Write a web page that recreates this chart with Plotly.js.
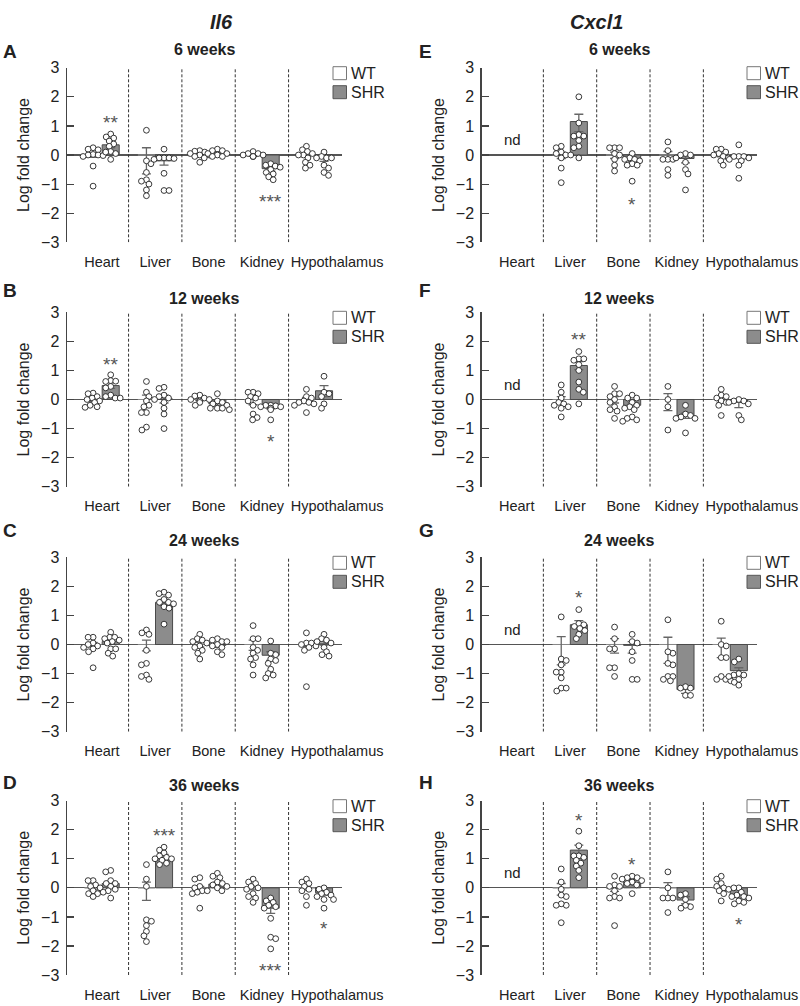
<!DOCTYPE html>
<html><head><meta charset="utf-8">
<script src="https://cdn.plot.ly/plotly-3.0.1.min.js"></script>
<style>html,body{margin:0;padding:0;background:#fff}#chart{width:800px;height:1006px}</style>
</head><body><div id="chart"></div>
<script>
const tissues = ['Heart','Liver','Bone','Kidney','Hypothalamus'];
const tissueLabelPos = [0, 1, 2, 3, 4.41];
const genes = ['Il6','Cxcl1'];
const ages = ['6 weeks','12 weeks','24 weeks','36 weeks'];

// ---------- Panel A: Il6, 6 weeks ----------
const A_wt_pts = [[0.25,0.2,0.18,0.02,0,0,-0.02,-0.05,-0.38,-1.07],[0.85,-0.3,-0.2,-0.6,-0.85,-0.9,-1.0,-1.2,-1.4],[0.15,0.13,0.1,0.05,0,0,-0.05,-0.1,-0.25],[0.12,0.05,0.05,0,0,-0.05,-0.05,-0.05],[0.3,0.18,0.12,0.05,0,0,-0.1,-0.25,-0.35,-0.45]];
const A_shr_pts = [[0.72,0.62,0.58,0.48,0.38,0.3,0.12,0.1,0.05,-0.15],[0.2,-0.1,-0.1,-0.1,-0.12,-0.15,-0.63,-1.22,-1.22],[0.2,0.15,0.15,0.05,0.05,0.02,0,-0.05,-0.05],[-0.3,-0.35,-0.38,-0.42,-0.5,-0.6,-0.65,-0.75,-0.85],[0.1,-0.05,-0.1,-0.1,-0.1,-0.35,-0.45,-0.6,-0.7]];
const A_wt_bar = [0,0,0,0,0];
const A_wt_hi = [0.07,0.25,0.05,0.04,0.07];
const A_wt_lo = [-0.08,-0.65,-0.05,-0.04,-0.08];
const A_shr_bar = [0.35,-0.2,0.07,-0.47,-0.1];
const A_shr_hi = [0.45,-0.07,0.12,-0.4,-0.02];
const A_shr_lo = [0.25,-0.35,0.02,-0.55,-0.22];
const A_stars = [[0,'**',1.3],[3,'***',-1.41]];

// ---------- Panel B: Il6, 12 weeks ----------
const B_wt_pts = [[0.22,0.2,0.1,0.05,0,-0.05,-0.1,-0.2,-0.25,-0.27],[0.62,0.25,0.1,-0.05,-0.2,-0.25,-0.45,-0.45,-0.95,-1.05],[0.15,0.12,0.05,0,0,-0.05,-0.1,-0.2],[0.25,0.25,0.2,0.1,0.05,-0.05,-0.2,-0.5,-0.62,-0.7],[0.35,0.1,0.05,-0.05,-0.1,-0.1,-0.15,-0.2,-0.45]];
const B_shr_pts = [[0.85,0.65,0.63,0.62,0.45,0.4,0.15,0.1,0.05,0.05],[0.42,0.38,0.15,0.1,0.05,0,-0.1,-0.3,-0.5,-1.0],[0.2,-0.05,-0.1,-0.15,-0.2,-0.3,-0.3,-0.3,-0.35],[-0.2,-0.2,-0.22,-0.25,-0.25,-0.3,-0.3,-0.35,-0.7],[0.8,0.25,0.2,0.1,-0.15,-0.3]];
const B_wt_bar = [0,0,0,0,0];
const B_wt_hi = [0.06,0.15,0.04,0.15,0.07];
const B_wt_lo = [-0.06,-0.22,-0.04,-0.18,-0.08];
const B_shr_bar = [0.48,0.02,-0.15,-0.27,0.3];
const B_shr_hi = [0.58,0.15,-0.1,-0.22,0.48];
const B_shr_lo = [0.38,-0.12,-0.2,-0.32,0.1];
const B_stars = [[0,'**',1.39],[3,'*',-1.28]];

// ---------- Panel C: Il6, 24 weeks ----------
const C_wt_pts = [[0.25,0.25,0.05,0,-0.05,-0.1,-0.15,-0.25,-0.8],[0.5,0.4,0.35,-0.2,-0.65,-0.7,-1.05,-1.1,-1.2],[0.35,0.2,0.15,0.1,0.05,-0.05,-0.1,-0.2,-0.3,-0.5],[0.65,0.2,0.2,-0.1,-0.2,-0.3,-0.45,-0.5,-0.7,-1.05],[0.4,0.05,0.05,0,-0.05,-0.1,-0.2,-1.45]];
const C_shr_pts = [[0.42,0.25,0.25,0.2,0.15,0.1,0.05,-0.15,-0.15,-0.3,-0.4],[1.8,1.75,1.7,1.55,1.45,1.45,1.4,1.3,1.25,0.7],[0.2,0.15,0.1,0.1,0,-0.05,-0.1,-0.25,-0.35],[0.12,-0.3,-0.35,-0.5,-0.55,-0.65,-0.85,-1.0,-1.05,-1.15],[0.35,0.2,0.15,0.1,0.05,-0.1,-0.25,-0.35,-0.4]];
const C_wt_bar = [0,0,0,0,0];
const C_wt_hi = [0.07,0.15,0.07,0.15,0.05];
const C_wt_lo = [-0.08,-0.22,-0.08,-0.2,-0.06];
const C_shr_bar = [0.1,1.45,-0.03,-0.37,0.05];
const C_shr_hi = [0.15,1.55,0.03,-0.25,0.11];
const C_shr_lo = [0.05,1.35,-0.1,-0.55,-0.02];
const C_stars = [];

// ---------- Panel D: Il6, 36 weeks ----------
const D_wt_pts = [[0.25,0.25,0.1,0.05,0,-0.1,-0.2,-0.2,-0.3],[0.8,0.3,0.05,-1.1,-1.15,-1.3,-1.5,-1.65,-1.85],[0.35,0.3,0.05,0,-0.1,-0.1,-0.15,-0.2,-0.7],[0.3,0.2,0.15,0.05,0,-0.05,-0.2,-0.3,-0.35,-0.5],[0.3,0.2,0.15,0.05,-0.05,-0.1,-0.3,-0.6]];
const D_shr_pts = [[0.6,0.55,0.25,0.15,0.15,0.05,-0.05,-0.1,-0.15,-0.35],[1.4,1.3,1.2,1.1,1.05,1.0,1.0,0.95,0.85,0.8],[0.5,0.4,0.35,0.2,0.15,0.1,0.05,0,-0.1],[-0.35,-0.45,-0.5,-0.6,-0.65,-0.7,-1.05,-1.7,-1.75,-2.1],[0,-0.05,-0.15,-0.2,-0.25,-0.3,-0.4,-0.4,-0.7]];
const D_wt_bar = [0,0,0,0,0];
const D_wt_hi = [0.06,0.2,0.05,0.06,0.07];
const D_wt_lo = [-0.07,-0.43,-0.06,-0.07,-0.08];
const D_shr_bar = [0.15,1.05,0.13,-0.7,-0.17];
const D_shr_hi = [0.22,1.15,0.2,-0.57,-0.1];
const D_shr_lo = [0.08,0.95,0.06,-0.88,-0.25];
const D_stars = [[1,'***',1.96],[3,'***',-2.69],[4,'*',-1.22]];

// ---------- Panel E: Cxcl1, 6 weeks (Heart: nd) ----------
const E_wt_pts = [null,[0.3,0.25,0.1,0.05,0,0,-0.1,-0.45,-0.95],[0.25,0.25,0.25,0.05,0,-0.15,-0.35,-0.55],[0.45,0.15,-0.15,-0.15,-0.15,-0.5,-0.7],[0.2,0.2,0.1,0.05,0,-0.05,-0.1,-0.2,-0.35]];
const E_shr_pts = [null,[2.0,1.1,0.7,0.65,0.65,0.5,0.3,0.25,-0.1],[0.05,-0.1,-0.15,-0.15,-0.2,-0.3,-0.35,-0.35,-0.9],[0.05,0,0,-0.1,-0.25,-0.5,-0.65,-1.2],[0.35,-0.05,-0.05,-0.05,-0.1,-0.15,-0.2,-0.35,-0.8]];
const E_wt_bar = [null,0,0,0,0];
const E_wt_hi = [null,0.1,0.1,0.12,0.05];
const E_wt_lo = [null,-0.12,-0.12,-0.15,-0.06];
const E_shr_bar = [null,1.15,-0.15,-0.12,-0.05];
const E_shr_hi = [null,1.4,-0.08,-0.02,0.0];
const E_shr_lo = [null,0.8,-0.22,-0.27,-0.1];
const E_stars = [[2,'*',-1.52]];

// ---------- Panel F: Cxcl1, 12 weeks ----------
const F_wt_pts = [null,[0.5,0.25,0.05,-0.1,-0.15,-0.2,-0.25,-0.3,-0.6],[0.45,0.2,0.2,0.1,0,-0.1,-0.25,-0.35,-0.4,-0.65],[0.45,0,-0.25,-1.05],[0.35,0.15,0.1,0.05,-0.05,-0.1,-0.2,-0.55]];
const F_shr_pts = [null,[1.65,1.4,1.4,1.35,1.2,1.0,0.6,0.35,0.25,-0.15],[0.15,0.05,0.05,-0.1,-0.2,-0.25,-0.3,-0.35,-0.6,-0.65,-0.7,-0.75],[-0.2,-0.5,-0.55,-0.6,-0.65,-0.65,-1.15],[0,-0.05,-0.05,-0.1,-0.15,-0.55,-0.7]];
const F_wt_bar = [null,0,0,0,0];
const F_wt_hi = [null,0.1,0.1,0.2,0.08];
const F_wt_lo = [null,-0.12,-0.12,-0.38,-0.1];
const F_shr_bar = [null,1.17,-0.2,-0.55,-0.1];
const F_shr_hi = [null,1.3,-0.12,-0.47,0.0];
const F_shr_lo = [null,1.03,-0.3,-0.65,-0.28];
const F_stars = [[1,'**',2.25]];

// ---------- Panel G: Cxcl1, 24 weeks ----------
const G_wt_pts = [null,[0.95,-0.5,-0.55,-0.7,-0.95,-0.95,-1.15,-1.5,-1.5,-1.6],[0.6,0.2,-0.15,-0.15,-0.8,-0.8,-1.1],[0.85,-0.3,-0.25,-0.7,-0.65,-1.1,-1.1,-1.25,-1.2],[0.8,0.0,-0.05,-0.45,-0.45,-1.1,-1.2,-1.2,-1.25]];
const G_shr_pts = [null,[1.2,0.72,0.68,0.62,0.55,0.48,0.35,0.2],[0.35,0.1,0.05,-0.25,-0.55,-1.2,-1.2],[-1.45,-1.5,-1.5,-1.75,-1.75],[-0.5,-0.6,-1.0,-1.05,-1.05,-1.1,-1.2,-1.3,-1.4]];
const G_wt_bar = [null,0,0,0,0];
const G_wt_hi = [null,0.27,0.2,0.25,0.22];
const G_wt_lo = [null,-0.7,-0.3,-0.65,-0.45];
const G_shr_bar = [null,0.68,-0.03,-1.55,-0.9];
const G_shr_hi = [null,0.82,0.1,-1.45,-0.8];
const G_shr_lo = [null,0.55,-0.3,-1.68,-1.0];
const G_stars = [[1,'*',1.8]];

// ---------- Panel H: Cxcl1, 36 weeks ----------
const H_wt_pts = [null,[0.65,0.2,-0.05,-0.3,-0.25,-0.6,-0.55,-0.6,-1.2],[0.4,0.1,0.05,0.05,-0.1,-0.3,-0.35,-0.35,-1.3],[0.55,0.0,-0.35,-0.35,-0.35,-0.85],[0.4,0.3,0.15,0.05,0,-0.05,-0.1,-0.2,-0.45]];
const H_shr_pts = [null,[1.95,1.45,1.1,1.1,1.05,0.95,0.85,0.75,0.6,0.35],[0.4,0.35,0.35,0.3,0.25,0.2,0.2,0.15,0.1,-0.2],[-0.2,-0.25,-0.4,-0.65,-0.6,-0.7],[0,0,-0.15,-0.25,-0.3,-0.3,-0.35,-0.45,-0.55,-0.5]];
const H_wt_bar = [null,0,0,0,0];
const H_wt_hi = [null,0.15,0.05,0.18,0.08];
const H_wt_lo = [null,-0.25,-0.12,-0.3,-0.1];
const H_shr_bar = [null,1.3,0.2,-0.42,-0.25];
const H_shr_hi = [null,1.47,0.27,-0.3,-0.2];
const H_shr_lo = [null,1.1,0.12,-0.55,-0.32];
const H_stars = [[1,'*',2.5],[2,'*',0.96],[4,'*',-1.08]];

const panels = [
 {id:'A',col:0,row:0,wtP:A_wt_pts,shP:A_shr_pts,wtB:A_wt_bar,wtH:A_wt_hi,wtL:A_wt_lo,shB:A_shr_bar,shH:A_shr_hi,shL:A_shr_lo,stars:A_stars},
 {id:'B',col:0,row:1,wtP:B_wt_pts,shP:B_shr_pts,wtB:B_wt_bar,wtH:B_wt_hi,wtL:B_wt_lo,shB:B_shr_bar,shH:B_shr_hi,shL:B_shr_lo,stars:B_stars},
 {id:'C',col:0,row:2,wtP:C_wt_pts,shP:C_shr_pts,wtB:C_wt_bar,wtH:C_wt_hi,wtL:C_wt_lo,shB:C_shr_bar,shH:C_shr_hi,shL:C_shr_lo,stars:C_stars},
 {id:'D',col:0,row:3,wtP:D_wt_pts,shP:D_shr_pts,wtB:D_wt_bar,wtH:D_wt_hi,wtL:D_wt_lo,shB:D_shr_bar,shH:D_shr_hi,shL:D_shr_lo,stars:D_stars},
 {id:'E',col:1,row:0,wtP:E_wt_pts,shP:E_shr_pts,wtB:E_wt_bar,wtH:E_wt_hi,wtL:E_wt_lo,shB:E_shr_bar,shH:E_shr_hi,shL:E_shr_lo,stars:E_stars},
 {id:'F',col:1,row:1,wtP:F_wt_pts,shP:F_shr_pts,wtB:F_wt_bar,wtH:F_wt_hi,wtL:F_wt_lo,shB:F_shr_bar,shH:F_shr_hi,shL:F_shr_lo,stars:F_stars},
 {id:'G',col:1,row:2,wtP:G_wt_pts,shP:G_shr_pts,wtB:G_wt_bar,wtH:G_wt_hi,wtL:G_wt_lo,shB:G_shr_bar,shH:G_shr_hi,shL:G_shr_lo,stars:G_stars},
 {id:'H',col:1,row:3,wtP:H_wt_pts,shP:H_shr_pts,wtB:H_wt_bar,wtH:H_wt_hi,wtL:H_wt_lo,shB:H_shr_bar,shH:H_shr_hi,shL:H_shr_lo,stars:H_stars}
];

// ---------- layout geometry (pixels) ----------
const W = 800, H = 1006;
const FONT = 'Liberation Sans, Arial, Helvetica, sans-serif';
const XR = [-0.66, 4.5];
const colPx = [[66.7, 341.9], [481.5, 756.7]];
const rowPx = [[67.7, 242.3], [312.3, 486.7], [557.3, 731.7], [800.7, 975]];
const subtitleY = [50, 298, 540.5, 785.5];
const letterY = [51, 290, 530, 782];
const letterX = [1, 417];
const OFF = 0.165, BW = 0.32;
const px = x => x / W, py = y => 1 - y / H;
const PXU = (colPx[0][1] - colPx[0][0]) / (XR[1] - XR[0]);
const PYU = (rowPx[0][1] - rowPx[0][0]) / 6;

// deterministic beeswarm offsets (in x data units)
function swarm(vals) {
  const D = 5.0;
  const idx = vals.map((v, i) => i).sort((a, b) => vals[b] - vals[a]);
  const placed = [];
  const off = new Array(vals.length).fill(0);
  idx.forEach((i, n) => {
    const y = vals[i] * PYU;
    let chosen = null;
    for (let s = 0; s <= 26 && chosen === null; s++) {
      const sgn = (n % 2 === 0) ? 1 : -1;
      const cands = s === 0 ? [0] : [sgn * s * 0.5, -sgn * s * 0.5];
      for (const c of cands) {
        if (placed.every(p => Math.hypot(p.x - c, p.y - y) >= D)) { chosen = c; break; }
      }
    }
    if (chosen === null) chosen = 0;
    placed.push({x: chosen, y});
    off[i] = chosen / PXU;
  });
  return off;
}

const traces = [], shapes = [], annotations = [];
const layout = {
  width: W, height: H, margin: {l: 0, r: 0, t: 0, b: 0},
  paper_bgcolor: '#fff', plot_bgcolor: 'rgba(0,0,0,0)',
  font: {family: FONT, color: '#222'},
  showlegend: false, barmode: 'overlay'
};

panels.forEach((p, k) => {
  const n = k + 1;
  const xa = 'x' + n, ya = 'y' + n;
  const cx = colPx[p.col], ry = rowPx[p.row];
  layout['xaxis' + n] = {
    domain: [px(cx[0]), px(cx[1])], anchor: ya, range: XR,
    tickmode: 'array', tickvals: tissueLabelPos, ticktext: tissues, tickangle: 0,
    ticks: '', showline: false, showgrid: false, zeroline: false,
    tickfont: {size: 14.5, color: '#222'}, ticklabelstandoff: 9, fixedrange: true
  };
  layout['yaxis' + n] = {
    domain: [py(ry[1]), py(ry[0])], anchor: xa, range: [-3, 3],
    tickvals: [-3, -2, -1, 0, 1, 2, 3], ticks: 'inside', ticklen: 7, tickwidth: 1.2,
    tickcolor: '#444', showline: true, linecolor: '#444', linewidth: 1.2,
    showgrid: false, zeroline: true, zerolinecolor: '#555', zerolinewidth: 1.3,
    tickfont: {size: 16, color: '#222'}, ticklabelstandoff: 3,
    title: {text: 'Log fold change', font: {size: 16, color: '#222'}, standoff: 7},
    fixedrange: true
  };

  const idx = [0, 1, 2, 3, 4].filter(i => p.wtB[i] !== null);
  const errArr = (b, hi, lo) => ({
    type: 'data', symmetric: false,
    array: idx.map(i => +(hi[i] - b[i]).toFixed(3)),
    arrayminus: idx.map(i => +(b[i] - lo[i]).toFixed(3)),
    color: '#666', thickness: 1.3, width: 4.5
  });
  traces.push({
    type: 'bar', name: 'WT', xaxis: xa, yaxis: ya,
    x: idx.map(i => i - OFF), y: idx.map(i => p.wtB[i]), width: BW,
    marker: {color: '#ffffff', line: {color: '#888', width: 1}},
    error_y: errArr(p.wtB, p.wtH, p.wtL), hoverinfo: 'skip'
  });
  traces.push({
    type: 'bar', name: 'SHR', xaxis: xa, yaxis: ya,
    x: idx.map(i => i + OFF), y: idx.map(i => p.shB[i]), width: BW,
    marker: {color: '#8c8c8c', line: {color: '#4a4a4a', width: 1}},
    error_y: errArr(p.shB, p.shH, p.shL), hoverinfo: 'skip'
  });
  [[p.wtP, -OFF], [p.shP, OFF]].forEach(([pts, o]) => {
    const xs = [], ys = [];
    idx.forEach(i => {
      const offs = swarm(pts[i]);
      pts[i].forEach((v, j) => { xs.push(i + o + offs[j]); ys.push(v); });
    });
    traces.push({
      type: 'scatter', mode: 'markers', xaxis: xa, yaxis: ya, x: xs, y: ys,
      marker: {symbol: 'circle', size: 5.8, color: '#ffffff', line: {color: '#222', width: 0.9}},
      cliponaxis: false, hoverinfo: 'skip'
    });
  });

  // dashed separators between tissues
  [0.5, 1.5, 2.5, 3.5].forEach(b => shapes.push({
    type: 'line', xref: xa, yref: ya, x0: b, x1: b, y0: -3, y1: 3,
    line: {color: '#333', width: 1, dash: '3px,2px'}
  }));

  // legend boxes (one per panel)
  const lx = p.col === 0 ? 333 : 747;
  const top = ry[0] - 1;
  shapes.push({type: 'rect', xref: 'paper', yref: 'paper', x0: px(lx), x1: px(lx + 13.5), y0: py(top + 13), y1: py(top),
    fillcolor: '#fff', line: {color: '#777', width: 1}});
  shapes.push({type: 'rect', xref: 'paper', yref: 'paper', x0: px(lx), x1: px(lx + 13.5), y0: py(top + 32), y1: py(top + 19),
    fillcolor: '#8c8c8c', line: {color: '#555', width: 1}});
  annotations.push({xref: 'paper', yref: 'paper', x: px(lx + 16), y: py(top + 6.5), xanchor: 'left', yanchor: 'middle',
    text: 'WT', showarrow: false, font: {size: 16, color: '#222'}});
  annotations.push({xref: 'paper', yref: 'paper', x: px(lx + 16), y: py(top + 25.5), xanchor: 'left', yanchor: 'middle',
    text: 'SHR', showarrow: false, font: {size: 16, color: '#222'}});

  // subtitle and panel letter
  annotations.push({xref: 'paper', yref: 'paper', x: px((cx[0] + cx[1]) / 2), y: py(subtitleY[p.row]),
    xanchor: 'center', yanchor: 'middle', text: '<b>' + ages[p.row] + '</b>', showarrow: false,
    font: {size: 16, color: '#222'}});
  annotations.push({xref: 'paper', yref: 'paper', x: px(letterX[p.col]), y: py(letterY[p.row]),
    xanchor: 'left', yanchor: 'middle', text: '<b>' + p.id + '</b>', showarrow: false,
    font: {size: 19, color: '#222'}});

  // significance stars
  p.stars.forEach(([i, s, y]) => annotations.push({xref: xa, yref: ya, x: i + OFF, y: y, text: s,
    showarrow: false, yshift: -5, xanchor: 'center', yanchor: 'middle', font: {size: 19, color: '#555'}}));

  // not detected
  if (p.wtB[0] === null) annotations.push({xref: xa, yref: ya, x: -0.07, y: 0.53, text: 'nd',
    showarrow: false, font: {size: 15, color: '#222'}});
});

// gene headers
annotations.push({xref: 'paper', yref: 'paper', x: px(208), y: py(9), text: '<b><i>' + genes[0] + '</i></b>',
  showarrow: false, font: {size: 20, color: '#222'}});
annotations.push({xref: 'paper', yref: 'paper', x: px(625), y: py(9), text: '<b><i>' + genes[1] + '</i></b>',
  showarrow: false, font: {size: 20, color: '#222'}});

layout.shapes = shapes;
layout.annotations = annotations;
Plotly.newPlot('chart', traces, layout, {staticPlot: true, displayModeBar: false});
</script></body></html>
